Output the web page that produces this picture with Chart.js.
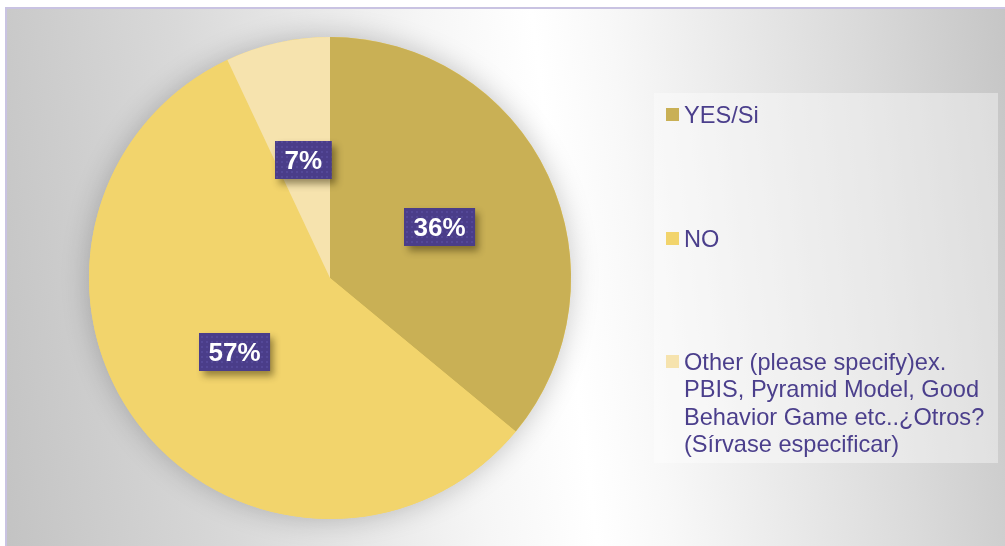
<!DOCTYPE html>
<html>
<head>
<meta charset="utf-8">
<script src="https://cdn.jsdelivr.net/npm/chart.js@4/dist/chart.umd.min.js"></script>
<style>
  html, body { margin: 0; padding: 0; background: #ffffff; overflow: hidden; }
  #frame {
    position: absolute; left: 5px; top: 7px; width: 1010px; height: 560px;
    border-left: 2px solid #c9c3e2; border-top: 2px solid #c9c3e2;
    background: linear-gradient(83deg, #c3c3c3 0%, #d9d9d9 22%, #f6f6f6 45%, #ffffff 55%, #f8f8f8 62%, #dadada 85%, #c4c4c4 100%);
  }
  #wrap { position: absolute; left: 0; top: 0; width: 1005px; height: 546px; }
</style>
</head>
<body>
<div id="frame"></div>
<div id="wrap"><canvas id="chart" width="1005" height="546"></canvas></div>
<script>
// Survey answers and their shares (percent)
const categories = [
  'YES/Si',
  'NO',
  ['Other (please specify)ex.', 'PBIS, Pyramid Model, Good', 'Behavior Game etc..¿Otros?', '(Sírvase especificar)']
];
const shares = [36, 57, 7];
const sliceColors = ['#c9b055', '#f2d46c', '#f6e3ae'];

const FONT = '"Liberation Sans", Arial, sans-serif';
const TEXT_PURPLE = '#4b3f8c';

// Dotted purple fill used behind the percentage labels
function makeDotPattern(ctx) {
  const c = document.createElement('canvas');
  c.width = 5; c.height = 5;
  const p = c.getContext('2d');
  p.fillStyle = '#4a3d89';
  p.fillRect(0, 0, 5, 5);
  p.fillStyle = '#544898';
  p.fillRect(1, 1, 2, 2);
  return ctx.createPattern(c, 'repeat');
}

// Soft halo under the whole pie
const pieShadow = {
  id: 'pieShadow',
  beforeDatasetsDraw(chart) {
    const arc = chart.getDatasetMeta(0).data[0];
    if (!arc) return;
    const ctx = chart.ctx;
    ctx.save();
    ctx.shadowColor = 'rgba(0,0,0,0.22)';
    ctx.shadowBlur = 28;
    ctx.fillStyle = sliceColors[1];
    ctx.beginPath();
    ctx.arc(arc.x, arc.y, arc.outerRadius, 0, Math.PI * 2);
    ctx.fill();
    ctx.restore();
  }
};

// Percentage tags placed halfway out on each slice
const sliceTags = {
  id: 'sliceTags',
  afterDatasetsDraw(chart) {
    const ctx = chart.ctx;
    const meta = chart.getDatasetMeta(0);
    const pattern = makeDotPattern(ctx);
    ctx.save();
    ctx.font = 'bold 26px ' + FONT;
    meta.data.forEach((arc, i) => {
      const text = shares[i] + '%';
      const pos = arc.getCenterPoint();
      const w = ctx.measureText(text).width + 19;
      const h = 38;
      const x = Math.round(pos.x - w / 2);
      const y = Math.round(pos.y - h / 2);
      ctx.save();
      ctx.shadowColor = 'rgba(40,30,0,0.45)';
      ctx.shadowBlur = 7;
      ctx.shadowOffsetX = 4;
      ctx.shadowOffsetY = 5;
      ctx.fillStyle = '#4a3d89';
      ctx.fillRect(x, y, w, h);
      ctx.restore();
      ctx.fillStyle = pattern;
      ctx.fillRect(x, y, w, h);
      ctx.fillStyle = '#ffffff';
      ctx.textAlign = 'center';
      ctx.textBaseline = 'middle';
      ctx.fillText(text, x + w / 2, y + h / 2 + 2);
    });
    ctx.restore();
  }
};

// Legend panel on the right
const sideLegend = {
  id: 'sideLegend',
  afterDraw(chart) {
    const ctx = chart.ctx;
    const colors = chart.data.datasets[0].backgroundColor;
    const box = { x: 654, y: 93, w: 344, h: 370 };
    ctx.save();
    ctx.fillStyle = 'rgba(255,255,255,0.38)';
    ctx.fillRect(box.x, box.y, box.w, box.h);
    ctx.font = '23.6px ' + FONT;
    ctx.textAlign = 'left';
    ctx.textBaseline = 'alphabetic';
    const firstBaselines = [123, 247, 370];
    const lineGap = 27.3;
    chart.data.labels.forEach((label, i) => {
      const lines = Array.isArray(label) ? label : [label];
      const base = firstBaselines[i];
      ctx.fillStyle = colors[i];
      ctx.fillRect(666, base - 15, 13, 13);
      ctx.fillStyle = TEXT_PURPLE;
      lines.forEach((ln, k) => ctx.fillText(ln, 684, base + k * lineGap));
    });
    ctx.restore();
  }
};

new Chart(document.getElementById('chart'), {
  type: 'pie',
  data: {
    labels: categories,
    datasets: [{
      data: shares,
      backgroundColor: sliceColors,
      borderWidth: 0,
      hoverOffset: 0
    }]
  },
  options: {
    responsive: false,
    animation: false,
    events: [],
    layout: { padding: { left: 89, right: 434, top: 37, bottom: 27 } },
    plugins: {
      legend: { display: false },
      tooltip: { enabled: false }
    }
  },
  plugins: [pieShadow, sliceTags, sideLegend]
});
</script>
</body>
</html>
